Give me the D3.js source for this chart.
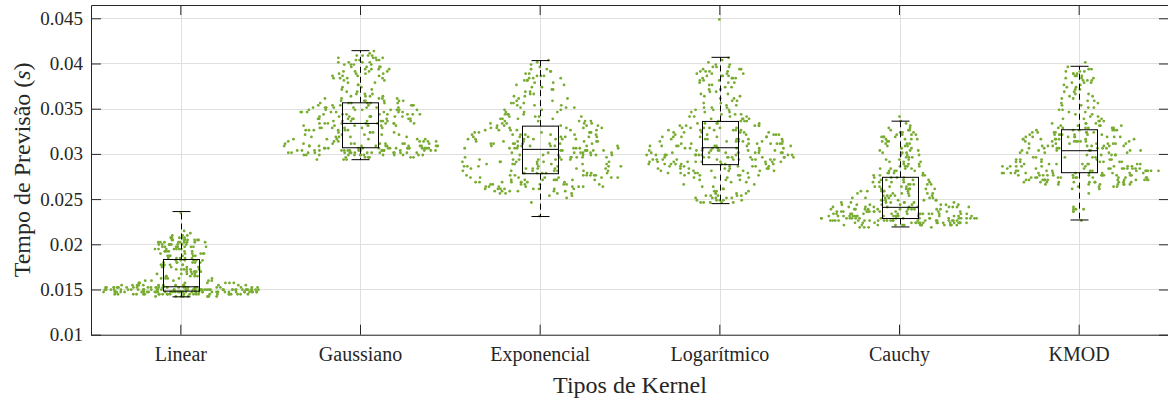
<!DOCTYPE html>
<html>
<head>
<meta charset="utf-8">
<script src="https://cdn.jsdelivr.net/npm/d3@7"></script>
<style>
  html, body { margin: 0; padding: 0; background: #ffffff; }
  svg { display: block; }
</style>
</head>
<body>
<svg id="chart" width="1168" height="399"></svg>
<script>
// ---- data -------------------------------------------------------------
const kernels = ["Linear", "Gaussiano", "Exponencial", "Logarítmico", "Cauchy", "KMOD"];

// prediction times, binned in steps of 0.00025 s; each array starts at binStart[i]
const binWidth = 0.00025;
const binStart = [0.0141, 0.02925, 0.0230, 0.0245, 0.02175, 0.0225];

const countsLinear = [8,25,42,45,30,14,7,5,5,5,5,6,6,6,6,6,6,5,6,6,6,7,8,9,9,8,6,3,1,1,0,0,0,0,0,0,0,1];
const countsGaussiano = [3,8,13,16,18,17,13,10,7,6,5,5,5,6,6,7,10,8,8,8,8,8,8,8,7,7,6,5,4,3,2,2,2,2,2,2,4,4,4,4,4,4,4,4,4,4,4,1,1];
const countsExponencial = [1,0,0,0,0,0,1,0,1,2,4,6,8,8,8,8,8,8,8,8,7,7,7,7,7,7,7,7,7,7,8,8,8,7,7,7,7,6,6,6,5,5,5,4,4,4,3,3,3,3,3,2,2,2,2,2,2,2,2,2,3,3,3,2,2,2,1,1,1,1];
const countsLogaritmico = [5,5,5,5,4,3,2,2,2,2,3,4,5,6,7,8,8,9,10,11,11,11,10,9,8,8,8,7,7,7,6,6,6,6,5,5,4,4,4,3,3,3,3,2,2,2,2,2,2,2,2,2,2,3,3,4,4,4,4,3,3,2,1,1,1,0,0,0,0,0,0,0,0,0,0,0,0,0,0,0,0,1];
const countsCauchy = [4,14,20,21,20,18,16,14,12,11,9,8,7,6,6,6,6,6,5,5,5,5,4,4,4,4,4,4,3,3,3,3,3,3,3,3,3,3,3,4,4,4,4,3,2,1,1,1,0,1];
const countsKMOD = [1,0,0,0,2,3,1,0,0,0,0,0,1,0,2,4,8,11,12,13,13,13,12,11,9,8,7,6,5,5,5,7,7,8,8,8,8,8,8,7,6,6,5,4,3,3,2,2,2,2,2,2,2,2,2,2,2,2,2,2,2,3,3,3,3,3,3,2,1,0,1];

const binCounts = [countsLinear, countsGaussiano, countsExponencial, countsLogaritmico, countsCauchy, countsKMOD];

// box-plot statistics per kernel
const whiskerLow  = [0.01419, 0.02936, 0.02307, 0.02450, 0.02192, 0.02269];
const quartile1   = [0.01482, 0.03068, 0.02781, 0.02881, 0.02285, 0.02792];
const medians     = [0.01530, 0.03337, 0.03050, 0.03068, 0.02409, 0.03035];
const quartile3   = [0.01832, 0.03565, 0.03307, 0.03359, 0.02741, 0.03267];
const whiskerHigh = [0.02362, 0.04142, 0.04032, 0.04068, 0.03362, 0.03969];

const yTicks = [0.01, 0.015, 0.02, 0.025, 0.03, 0.035, 0.04, 0.045];
const yTickLabels = ["0.01", "0.015", "0.02", "0.025", "0.03", "0.035", "0.04", "0.045"];
const yDomain = [0.01, 0.04647];

const xTitle = "Tipos de Kernel";
const yTitleText = "Tempo de Previsão (";
const yTitleUnit = "s";

// ---- layout -----------------------------------------------------------
const plot = { left: 91, right: 1169, top: 5, bottom: 334.7 };
const axisColor = "#262626";
const gridColor = "#dfdfdf";
const dotColor = "#77ac30";
const serif = "'Liberation Serif', 'Times New Roman', serif";

const svg = d3.select("#chart");
svg.append("rect").attr("width", 1168).attr("height", 399).attr("fill", "#ffffff");

const x = d3.scaleBand().domain(kernels).range([plot.left, plot.right]).padding(0);
const y = d3.scaleLinear().domain(yDomain).range([plot.bottom, plot.top]);
const xc = k => x(k) + x.bandwidth() / 2;

// grid
const grid = svg.append("g").attr("stroke", gridColor).attr("stroke-width", 1);
grid.selectAll("line.gy").data(yTicks).join("line").attr("class", "gy")
  .attr("x1", plot.left).attr("x2", plot.right)
  .attr("y1", d => Math.round(y(d)) + 0.5).attr("y2", d => Math.round(y(d)) + 0.5);
grid.selectAll("line.gx").data(kernels).join("line").attr("class", "gx")
  .attr("x1", d => Math.round(xc(d)) + 0.5).attr("x2", d => Math.round(xc(d)) + 0.5)
  .attr("y1", plot.top).attr("y2", plot.bottom);

// deterministic scatter offset in [0,1) for the swarm layout
const spread = (a, b) => {
  const s = Math.sin(a * 12.9898 + b * 78.233) * 43758.5453;
  return s - Math.floor(s);
};

// swarm points: horizontal spread follows a kernel density estimate of each group
const dots = svg.append("g");
kernels.forEach((k, i) => {
  const counts = binCounts[i];
  const centers = counts.map((c, j) => binStart[i] + (j + 0.5) * binWidth);
  const values = [];
  counts.forEach((c, j) => { for (let r = 0; r < c; r++) values.push(centers[j]); });
  const n = values.length;
  const sd = d3.deviation(values);
  const iqr = d3.quantile(values, 0.75) - d3.quantile(values, 0.25);
  const h = 1.06 * Math.min(sd, iqr / 1.34) * Math.pow(n, -0.2);
  const dens = centers.map(c => d3.sum(counts, (cnt, j) => cnt * Math.exp(-0.5 * ((c - centers[j]) / h) ** 2)));
  const maxD = d3.max(dens);
  const half = 0.45 * x.bandwidth();
  const pts = [];
  let idx = 0;
  counts.forEach((cnt, j) => {
    for (let r = 0; r < cnt; r++) {
      const u = spread(idx + 1, i + 1);
      pts.push({ v: centers[j], off: (2 * u - 1) * half * dens[j] / maxD });
      idx++;
    }
  });
  dots.append("g").selectAll("circle").data(pts).join("circle")
    .attr("cx", d => xc(k) + d.off)
    .attr("cy", d => y(d.v))
    .attr("r", 1.4)
    .attr("fill", dotColor);
});

// box plots
const boxW = 36, capW = 18;
const boxes = svg.append("g").attr("stroke", "#000000").attr("stroke-width", 1).attr("fill", "none");
kernels.forEach((k, i) => {
  const cx = Math.round(xc(k)) + 0.5;
  const g = boxes.append("g");
  g.append("line").attr("x1", cx).attr("x2", cx).attr("y1", y(quartile3[i])).attr("y2", y(whiskerHigh[i]))
    .attr("stroke-dasharray", "6,4");
  g.append("line").attr("x1", cx).attr("x2", cx).attr("y1", y(quartile1[i])).attr("y2", y(whiskerLow[i]))
    .attr("stroke-dasharray", "6,4");
  g.append("line").attr("x1", cx - capW / 2).attr("x2", cx + capW / 2)
    .attr("y1", y(whiskerHigh[i])).attr("y2", y(whiskerHigh[i]));
  g.append("line").attr("x1", cx - capW / 2).attr("x2", cx + capW / 2)
    .attr("y1", y(whiskerLow[i])).attr("y2", y(whiskerLow[i]));
  g.append("rect").attr("x", cx - boxW / 2).attr("width", boxW)
    .attr("y", y(quartile3[i])).attr("height", y(quartile1[i]) - y(quartile3[i]));
  g.append("line").attr("x1", cx - boxW / 2).attr("x2", cx + boxW / 2)
    .attr("y1", y(medians[i])).attr("y2", y(medians[i]));
});

// axes (ticks point inward on all four sides)
function styleAxis(sel, size) {
  sel.attr("font-family", serif).attr("font-size", size);
  sel.selectAll("path.domain").attr("stroke", axisColor);
  sel.selectAll(".tick line").attr("stroke", axisColor);
  sel.selectAll(".tick text").attr("fill", axisColor);
}
const axB = svg.append("g").attr("transform", `translate(0,${plot.bottom})`)
  .call(d3.axisBottom(x).tickSize(-10).tickSizeOuter(0).tickPadding(12));
styleAxis(axB, 20);
const axT = svg.append("g").attr("transform", `translate(0,${plot.top})`)
  .call(d3.axisTop(x).tickSize(-10).tickSizeOuter(0).tickFormat(""));
styleAxis(axT, 20);
const axL = svg.append("g").attr("transform", `translate(${plot.left},0)`)
  .call(d3.axisLeft(y).tickValues(yTicks).tickFormat((d, i) => yTickLabels[i]).tickSize(-10).tickSizeOuter(0).tickPadding(8));
styleAxis(axL, 19);
const axR = svg.append("g").attr("transform", `translate(${plot.right},0)`)
  .call(d3.axisRight(y).tickValues(yTicks).tickSize(-10).tickSizeOuter(0).tickFormat(""));
styleAxis(axR, 19);

// axis titles
svg.append("text")
  .attr("x", (plot.left + plot.right) / 2).attr("y", 392.5)
  .attr("text-anchor", "middle").attr("font-family", serif).attr("font-size", 24).attr("fill", axisColor)
  .text(xTitle);
const yt = svg.append("text")
  .attr("transform", `translate(30,${(plot.top + plot.bottom) / 2}) rotate(-90)`)
  .attr("text-anchor", "middle").attr("font-family", serif).attr("font-size", 24).attr("fill", axisColor);
yt.append("tspan").text(yTitleText);
yt.append("tspan").attr("font-style", "italic").text(yTitleUnit);
yt.append("tspan").text(")");
</script>
</body>
</html>
